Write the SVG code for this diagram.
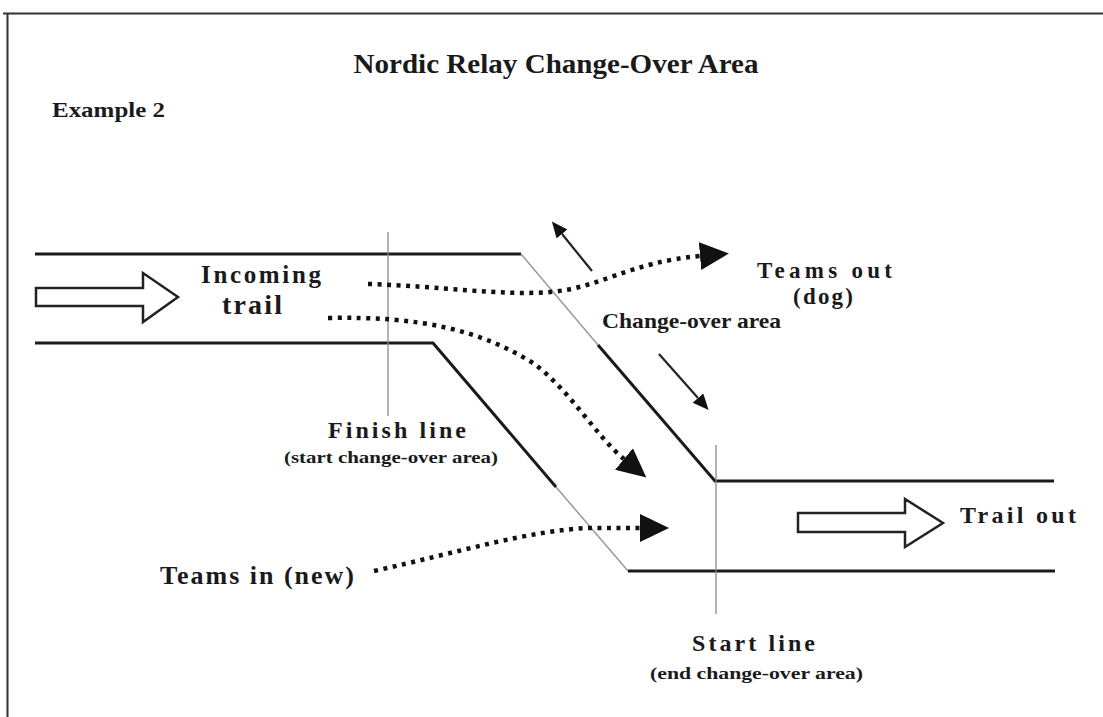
<svg xmlns="http://www.w3.org/2000/svg" width="1103" height="717" viewBox="0 0 1103 717">
<defs>
<style>
text{font-family:"Liberation Serif","Times New Roman",serif;font-weight:bold;fill:#1a1a1a}
.trail{fill:none;stroke:#1a1a1a;stroke-width:3}
.gray{fill:none;stroke:#9a9a9a;stroke-width:1.5}
.marker{fill:none;stroke:#8a8a8a;stroke-width:1.3}
.big{fill:#fff;stroke:#222;stroke-width:2.5;stroke-linejoin:miter}
.dot{fill:none;stroke:#111;stroke-width:4.5;stroke-dasharray:4 5.5}
.solid{fill:none;stroke:#222;stroke-width:2.2}
</style>
<marker id="tri" markerUnits="userSpaceOnUse" markerWidth="32" markerHeight="30" refX="0" refY="14" orient="auto">
<path d="M0,0 L29,14 L0,28 z" fill="#111"/>
</marker>
<marker id="tri2" markerUnits="userSpaceOnUse" markerWidth="18" markerHeight="16" refX="0" refY="7" orient="auto">
<path d="M0,0 L16,7 L0,14 z" fill="#111"/>
</marker>
</defs>
<rect width="1103" height="717" fill="#fff"/>
<path d="M3,13.5 H1103 M7.5,13 V717" fill="none" stroke="#333" stroke-width="2"/>

<g id="title">
<text x="556" y="73" font-size="28" text-anchor="middle" textLength="405" lengthAdjust="spacingAndGlyphs">Nordic Relay Change-Over Area</text>
</g>
<g id="example">
<text x="52" y="117" font-size="22" textLength="113" lengthAdjust="spacingAndGlyphs">Example 2</text>
</g>

<g id="trail-edges">
<path class="trail" d="M35,254 H521"/>
<path class="gray" d="M521,254 L598,345"/>
<path class="trail" d="M598,345 L715,481 H1054"/>
<path class="trail" d="M35,343 H433 L556,487"/>
<path class="gray" d="M556,487 L628,571"/>
<path class="trail" d="M628,571 H1055"/>
</g>

<g id="finish-line">
<path class="marker" d="M388,232 V416"/>
<text x="328" y="438" font-size="24" textLength="138">Finish line</text>
<text x="284" y="463" font-size="17" textLength="214" lengthAdjust="spacingAndGlyphs">(start change-over area)</text>
</g>

<g id="start-line">
<path class="marker" d="M716,445 V614"/>
<text x="692" y="651" font-size="24" textLength="123">Start line</text>
<text x="650" y="679" font-size="17" textLength="213" lengthAdjust="spacingAndGlyphs">(end change-over area)</text>
</g>

<g id="incoming-trail">
<polygon class="big" points="36,288 143,288 143,273 178,297 143,322 143,306 36,306"/>
<text x="201" y="283" font-size="25" textLength="120">Incoming</text>
<text x="222" y="314" font-size="28" textLength="60">trail</text>
</g>

<g id="trail-out">
<polygon class="big" points="798,513 905,513 905,499 943,523 905,547 905,532 798,532"/>
<text x="960" y="523" font-size="24" textLength="116">Trail out</text>
</g>

<g id="teams-out">
<text x="757" y="278" font-size="23" textLength="135">Teams out</text>
<text x="793" y="304" font-size="23" textLength="60">(dog)</text>
</g>

<g id="change-over">
<text x="602" y="328" font-size="21" textLength="179" lengthAdjust="spacingAndGlyphs">Change-over area</text>
</g>

<g id="teams-in">
<text x="160" y="584" font-size="26" textLength="194">Teams in (new)</text>
</g>

<g id="connectors">
<path class="dot" d="M368,284 C440,286 500,296 550,292 C600,288 630,262 700,256" marker-end="url(#tri)"/>
<path class="dot" d="M328,318 C420,316 480,330 533,363 C570,390 595,435 624,459" marker-end="url(#tri)"/>
<path class="dot" d="M374,571 C460,552 530,530 590,528 L640,528" marker-end="url(#tri)"/>
<path class="solid" d="M592,271 L562,234" marker-end="url(#tri2)"/>
<path class="solid" d="M659,354 L698,398" marker-end="url(#tri2)"/>
</g>
</svg>
